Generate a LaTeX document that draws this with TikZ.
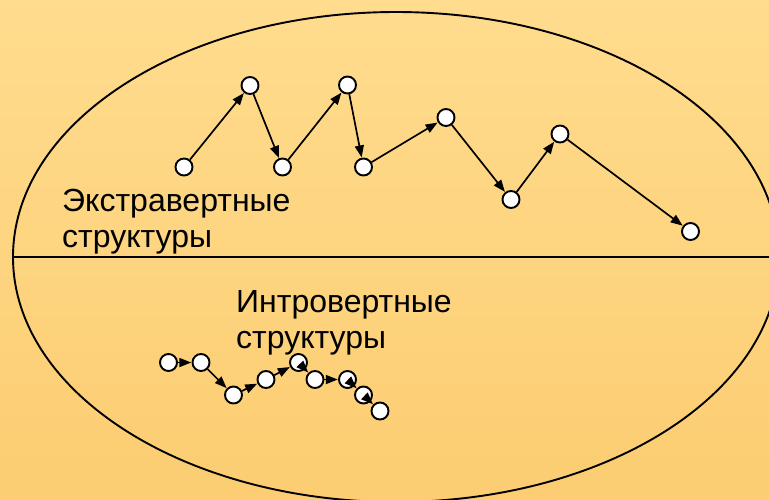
\documentclass[tikz,border=0pt]{standalone}
\usepackage{fontspec}
\setmainfont{Liberation Sans}
\usetikzlibrary{arrows.meta}
\definecolor{bgA}{RGB}{252,205,114}
\definecolor{bgB}{RGB}{255,220,142}
\tikzset{
  dot/.style={circle, draw=black, fill=white, line width=1.9pt, minimum size=17pt, inner sep=0pt},
  conn/.style={line width=1.7pt, -{Triangle[length=12pt,width=9pt]}, shorten >=0.3pt},
  lbl/.style={anchor=north west, inner sep=0pt, align=left, font=\fontsize{32}{36.5}\selectfont}
}
\begin{document}
\begin{tikzpicture}[x=1pt,y=-1pt]
\useasboundingbox (0,0) rectangle (769,499);
\shade[shading=axis, shading angle=-45, top color=bgB, bottom color=bgA] (0,0) rectangle (769,499);
\begin{scope}
\clip (0,0) rectangle (769,499);
\draw[line width=1.9pt] (396,257) ellipse [x radius=383pt, y radius=245pt];
\end{scope}
\coordinate (lw) at (13,257);
\coordinate (le) at (769,257);
\draw[line width=1.9pt] (lw) -- (le);

\node[lbl] (ext) at (62,188.5) {Экстравертные\\структуры};
\node[lbl] (int) at (236,290) {Интровертные\\структуры};

\node[dot] (n1) at (184,167) {};
\node[dot] (n2) at (250,85.5) {};
\node[dot] (n3) at (282.5,167) {};
\node[dot] (n4) at (347.5,85) {};
\node[dot] (n5) at (363.5,167) {};
\node[dot] (n6) at (446,117.5) {};
\node[dot] (n7) at (511,199.5) {};
\node[dot] (n8) at (560,134) {};
\node[dot] (n9) at (690.5,231.5) {};

\draw[conn] (n1) -- (n2);
\draw[conn] (n2) -- (n3);
\draw[conn] (n3) -- (n4);
\draw[conn] (n4) -- (n5);
\draw[conn] (n5) -- (n6);
\draw[conn] (n6) -- (n7);
\draw[conn] (n7) -- (n8);
\draw[conn] (n8) -- (n9);

\node[dot] (m1) at (168.5,362.5) {};
\node[dot] (m2) at (201,362.5) {};
\node[dot] (m3) at (233.5,395) {};
\node[dot] (m4) at (266,379.5) {};
\node[dot] (m5) at (298.5,362.5) {};
\node[dot] (m6) at (315,379.5) {};
\node[dot] (m7) at (347.5,379.5) {};
\node[dot] (m8) at (363.5,395) {};
\node[dot] (m9) at (380,411) {};

\draw[conn] (m1) -- (m2);
\draw[conn] (m2) -- (m3);
\draw[conn] (m3) -- (m4);
\draw[conn] (m4) -- (m5);
\draw[conn] (m5) -- (m6);
\draw[conn] (m6) -- (m7);
\draw[conn] (m7) -- (m8);
\draw[conn] (m8) -- (m9);
\end{tikzpicture}
\end{document}
